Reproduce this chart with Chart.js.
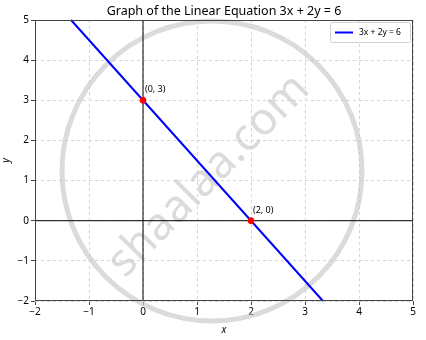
<!DOCTYPE html>
<html>
<head>
<meta charset="utf-8">
<script src="https://cdn.jsdelivr.net/npm/chart.js@4/dist/chart.umd.min.js"></script>
<style>
  html, body { margin: 0; padding: 0; background: #fff; }
  #wrap { width: 426px; height: 340px; }
</style>
</head>
<body>
<div id="wrap"><canvas id="chart"></canvas></div>
<script>
// data
const lineX = [-1.333, 3.333];
const lineY = [5, -2];
const pointX = [0, 2];
const pointY = [3, 0];
const pointLabels = ['(0, 3)', '(2, 0)'];
const xTicks = [-2, -1, 0, 1, 2, 3, 4, 5];
const yTicks = [-2, -1, 0, 1, 2, 3, 4, 5];
const titleText = 'Graph of the Linear Equation 3x + 2y = 6';
const legendText = '3x + 2y = 6';

const FONT = "'Noto Sans', 'DejaVu Sans', sans-serif";
const fmt = v => (v < 0 ? '\u2212' + Math.abs(v) : String(v));

const extras = {
  id: 'extras',
  beforeDatasetsDraw(chart) {
    const ctx = chart.ctx;
    ctx.save();
    // watermark
    ctx.strokeStyle = 'rgba(200,200,200,0.65)';
    ctx.lineWidth = 5;
    ctx.beginPath();
    ctx.arc(212, 171, 150, 0, Math.PI * 2);
    ctx.stroke();
    ctx.translate(209, 176);
    ctx.rotate(-0.79);
    ctx.fillStyle = 'rgba(200,200,200,0.65)';
    ctx.font = "45px " + FONT;
    ctx.textAlign = 'center';
    ctx.textBaseline = 'middle';
    ctx.fillText('shaalaa.com', 0, 0);
    ctx.restore();
  },
  afterDatasetsDraw(chart) {
    const ctx = chart.ctx;
    const xs = chart.scales.x, ys = chart.scales.y;
    const a = chart.chartArea;
    ctx.save();
    // point labels
    ctx.fillStyle = '#000';
    ctx.font = "9px " + FONT;
    ctx.textAlign = 'left';
    ctx.textBaseline = 'alphabetic';
    pointX.forEach((v, i) => {
      ctx.fillText(pointLabels[i], xs.getPixelForValue(v) + 2, ys.getPixelForValue(pointY[i]) - 8);
    });
    // frame
    ctx.strokeStyle = '#444';
    ctx.lineWidth = 1;
    ctx.strokeRect(a.left + 0.5, a.top + 0.5, a.right - a.left - 1, a.bottom - a.top - 1);
    // legend
    const lx = 330, ly = 22, lw = 80, lh = 20;
    ctx.fillStyle = 'rgba(255,255,255,0.85)';
    ctx.strokeStyle = '#d0d0d0';
    ctx.beginPath();
    ctx.roundRect(lx + 0.5, ly + 0.5, lw, lh, 2);
    ctx.fill();
    ctx.stroke();
    ctx.strokeStyle = '#0000ff';
    ctx.lineWidth = 2;
    ctx.beginPath();
    ctx.moveTo(lx + 5, ly + 10.5);
    ctx.lineTo(lx + 23, ly + 10.5);
    ctx.stroke();
    ctx.fillStyle = '#000';
    ctx.font = "8.5px " + FONT;
    ctx.textBaseline = 'middle';
    ctx.fillText(legendText, lx + 29, ly + 11);
    // title
    ctx.font = "12.5px " + FONT;
    ctx.textAlign = 'center';
    ctx.textBaseline = 'middle';
    ctx.fillText(titleText, (a.left + a.right) / 2, 11);
    ctx.restore();
  }
};

new Chart(document.getElementById('chart'), {
  type: 'scatter',
  data: {
    datasets: [
      {
        label: 'xaxis', order: 3,
        data: [{ x: -2, y: 0 }, { x: 5, y: 0 }],
        showLine: true, borderColor: '#000', borderWidth: 1, pointRadius: 0
      },
      {
        label: 'yaxis', order: 2,
        data: [{ x: 0, y: -2 }, { x: 0, y: 5 }],
        showLine: true, borderColor: '#000', borderWidth: 1, pointRadius: 0
      },
      {
        label: legendText, order: 1,
        data: lineX.map((x, i) => ({ x: x, y: lineY[i] })),
        showLine: true, borderColor: '#0000ff', borderWidth: 2, pointRadius: 0
      },
      {
        label: 'points', order: 0,
        data: pointX.map((x, i) => ({ x: x, y: pointY[i] })),
        showLine: false, backgroundColor: '#ff0000', borderColor: '#ff0000', borderWidth: 1, pointRadius: 3
      }
    ]
  },
  options: {
    responsive: true,
    maintainAspectRatio: false,
    animation: false,
    clip: false,
    layout: { padding: { top: 20, right: 13, left: 0, bottom: 0 } },
    plugins: {
      legend: { display: false },
      title: { display: false },
      tooltip: { enabled: false }
    },
    scales: {
      x: {
        type: 'linear', min: -2, max: 5,
        afterBuildTicks: s => { s.ticks = xTicks.map(v => ({ value: v })); },
        afterFit: s => { s.height = 39; },
        ticks: { color: '#000', font: { family: FONT, size: 10 }, padding: 1, maxRotation: 0, callback: v => fmt(v) },
        grid: { color: '#d4d4d4', tickColor: '#444', tickLength: 4, drawTicks: true },
        border: { display: false, dash: [3, 3] },
        title: { display: true, text: 'x', color: '#000', font: { family: FONT, size: 10, style: 'italic' }, padding: { top: 0 } }
      },
      y: {
        type: 'linear', min: -2, max: 5,
        afterBuildTicks: s => { s.ticks = yTicks.map(v => ({ value: v })); },
        afterFit: s => { s.width = 35; },
        ticks: { color: '#000', font: { family: FONT, size: 10 }, padding: 2, callback: v => fmt(v) },
        grid: { color: '#d4d4d4', tickColor: '#444', tickLength: 4, drawTicks: true },
        border: { display: false, dash: [3, 3] },
        title: { display: true, text: 'y', color: '#000', font: { family: FONT, size: 10, style: 'italic' }, padding: 0 }
      }
    }
  },
  plugins: [extras]
});
</script>
</body>
</html>
